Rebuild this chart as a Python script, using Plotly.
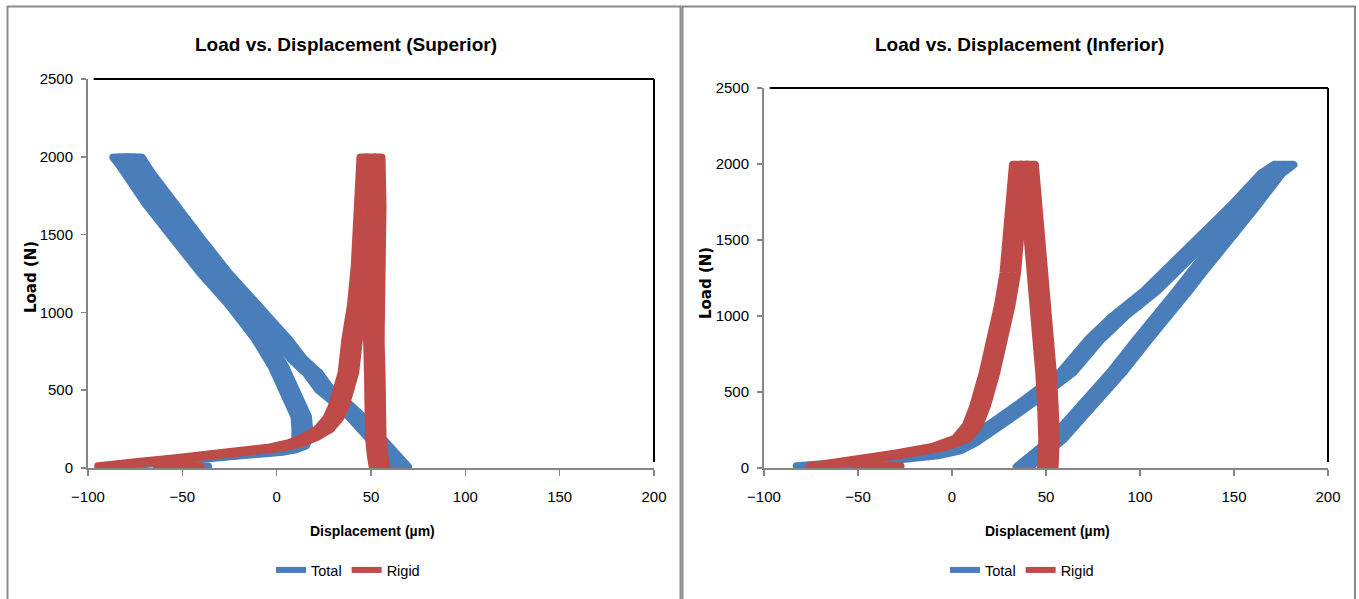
import plotly.graph_objects as go

# ---------------- data ----------------
X_TICKS = [-100, -50, 0, 50, 100, 150, 200]
Y_TICKS = [0, 500, 1000, 1500, 2000, 2500]

# Superior - Total (path: loading branch up, top, unloading branch down, tail)
SUP_TOTAL_X = [66, 64.5, 60, 55.5, 47, 40.5, 33, 25.5, 19, 11, 3, -14, -29, -43, -57, -70, -75,
               -83, -80, -66, -51, -37, -22, -8, 1, 7, 11, 13, 13.5, 13.5, 12, 6, 0,
               -15, -30, -45, -60, -72, -80, -86]
SUP_TOTAL_Y = [8, 28, 80, 135, 260, 349, 430, 504, 611, 700, 825, 1050, 1254, 1469, 1683, 1900, 1995,
               1995, 1950, 1700, 1469, 1254, 1050, 830, 650, 500, 400, 330, 260, 190, 145, 118, 105,
               88, 72, 58, 45, 32, 20, 12]
SUP_TOTAL_SEG_X = [-45, -40]
SUP_TOTAL_SEG_Y = [10, 10]

# Superior - Rigid
SUP_RIGID_X = [-91, -82, -70, -50, -30, -12, 0, 10, 18, 25, 30, 33, 36, 38, 40, 43, 45, 47, 48,
               52, 52.5, 52, 51.5, 51.5, 52, 52, 52.5, 53.5, 54.5]
SUP_RIGID_Y = [12, 20, 38, 62, 86, 110, 132, 160, 200, 250, 320, 400, 504, 611, 825, 1050, 1300, 1683, 1995,
               1995, 1683, 1254, 1000, 825, 600, 400, 200, 80, 8]
SUP_RIGID_SEG_X = [-60, -44]
SUP_RIGID_SEG_Y = [12, 12]

# Inferior - Total
INF_TOTAL_X = [38, 41.5, 45, 50, 56, 64, 71, 79.5, 87.5, 101.5, 112, 122.5, 130, 144.5, 158.5, 172, 178,
               175, 168, 151.5, 133.5, 115.5, 105.5, 89, 76, 61, 50, 40, 27.5, 17.5, 9.5, 1,
               -11, -31, -51.5, -72, -79]
INF_TOTAL_Y = [8, 39, 83, 130, 192, 301, 410, 520, 629, 847, 1000, 1164, 1284, 1502, 1721, 1939, 1995,
               1995, 1939, 1721, 1502, 1284, 1164, 1000, 847, 629, 520, 432, 323, 236, 170, 116,
               83, 57, 35, 20, 12]
INF_TOTAL_SEG_X = [-53, -47]
INF_TOTAL_SEG_Y = [10, 10]

# Inferior - Rigid
INF_RIGID_X = [-72, -62, -45.5, -27, -7, 5, 11, 15, 20, 24.5, 28, 31, 32.5, 35, 36,
               40.5, 42.5, 44, 45.5, 47, 48.4, 50, 51, 51.6, 51]
INF_RIGID_Y = [12, 28, 61, 94, 138, 192, 280, 410, 629, 847, 1066, 1284, 1500, 1721, 1995,
               1995, 1721, 1500, 1284, 1066, 847, 629, 410, 192, 8]
INF_RIGID_SEG_X = [-48, -31]
INF_RIGID_SEG_Y = [12, 12]

SERIES_NAMES = ["Total", "Rigid"]
TITLES = ["Load vs. Displacement (Superior)", "Load vs. Displacement (Inferior)"]
X_TITLE = "Displacement (µm)"
Y_TITLE = "Load (N)"

# ---------------- style ----------------
W, H = 1359, 599
BLUE = "#4A7EBB"
RED = "#BE4B48"
AXIS_GRAY = "#868686"
BORDER_GRAY = "#8a8a8a"
FONT = "Liberation Sans, Arial, sans-serif"
SCATTER_HW = 3.6      # half spread of the noisy point cloud (µm)
MARKER_W = 8          # apparent marker diameter (px)


def fx(p):
    return p / W


def fy(p):
    return 1 - p / H


def spread(xs, ys, hw):
    """three parallel strokes (centre and +/- hw in x) imitate the dense point cloud"""
    out_x, out_y = [], []
    for off in (-hw, 0.0, hw):
        if out_x:
            out_x.append(None)
            out_y.append(None)
        out_x += [x + off for x in xs]
        out_y += list(ys)
    return out_x, out_y


fig = go.Figure()

panels = [
    dict(xa="x", ya="y", legend="legend",
         total=(SUP_TOTAL_X, SUP_TOTAL_Y, SUP_TOTAL_SEG_X, SUP_TOTAL_SEG_Y),
         rigid=(SUP_RIGID_X, SUP_RIGID_Y, SUP_RIGID_SEG_X, SUP_RIGID_SEG_Y)),
    dict(xa="x2", ya="y2", legend="legend2",
         total=(INF_TOTAL_X, INF_TOTAL_Y, INF_TOTAL_SEG_X, INF_TOTAL_SEG_Y),
         rigid=(INF_RIGID_X, INF_RIGID_Y, INF_RIGID_SEG_X, INF_RIGID_SEG_Y)),
]

for p in panels:
    for key, color in (("total", BLUE), ("rigid", RED)):
        xs, ys, sx, sy = p[key]
        ax, ay = spread(xs, ys, SCATTER_HW)
        bx, by = spread(sx, sy, SCATTER_HW)
        fig.add_trace(go.Scatter(
            x=ax + [None] + bx, y=ay + [None] + by,
            xaxis=p["xa"], yaxis=p["ya"], mode="lines",
            line=dict(color=color, width=MARKER_W),
            showlegend=False, hoverinfo="skip"))
    for name, color in zip(SERIES_NAMES, (BLUE, RED)):
        fig.add_trace(go.Scatter(
            x=[None], y=[None], xaxis=p["xa"], yaxis=p["ya"], mode="lines",
            line=dict(color=color, width=6), name=name, legend=p["legend"]))

axis_common = dict(
    showline=True, linecolor=AXIS_GRAY, linewidth=2, ticks="outside",
    tickcolor=AXIS_GRAY, tickwidth=1.5, showgrid=False, zeroline=False,
    tickfont=dict(family=FONT, size=15, color="#000000"), fixedrange=True,
    automargin=False)

plot_px = [
    dict(x0=88, x1=654, y0=79, y1=468),
    dict(x0=764, x1=1328, y0=88, y1=468),
]

layout_axes = {}
for i, pp in enumerate(plot_px):
    sfx = "" if i == 0 else "2"
    layout_axes["xaxis" + sfx] = dict(
        axis_common, domain=[fx(pp["x0"]), fx(pp["x1"])], range=[-100, 200],
        tickvals=X_TICKS, ticklen=6, anchor="y" + sfx, ticklabelstandoff=8)
    layout_axes["yaxis" + sfx] = dict(
        axis_common, domain=[fy(pp["y1"]), fy(pp["y0"])], range=[0, 2500],
        tickvals=Y_TICKS, ticklen=5, anchor="x" + sfx, ticklabelstandoff=5)

fig.update_layout(**layout_axes)

legend_common = dict(
    orientation="h", xanchor="center", yanchor="middle",
    font=dict(family=FONT, size=14.5, color="#000000"),
    itemwidth=30, bgcolor="rgba(0,0,0,0)", borderwidth=0,
    itemclick=False, itemdoubleclick=False)

fig.update_layout(
    width=W, height=H,
    margin=dict(l=0, r=0, t=0, b=0, pad=0, autoexpand=False),
    paper_bgcolor="white", plot_bgcolor="white",
    showlegend=True,
    legend=dict(legend_common, x=fx(348), y=fy(570)),
    legend2=dict(legend_common, x=fx(1022), y=fy(570)),
)

shapes = []
# panel borders
for x0, x1 in ((7.5, 680.5), (682.5, 1355)):
    shapes.append(dict(type="rect", xref="paper", yref="paper",
                       x0=fx(x0), x1=fx(x1), y0=fy(640), y1=fy(6.5),
                       line=dict(color=BORDER_GRAY, width=2), fillcolor="rgba(0,0,0,0)",
                       layer="below"))
# black top and right frame lines of each plot area
for i, pp in enumerate(plot_px):
    sfx = "" if i == 0 else "2"
    xr, yr = "x" + sfx + " domain", "y" + sfx + " domain"
    bottom_frac = 6 / (pp["y1"] - pp["y0"])
    shapes.append(dict(type="line", xref=xr, yref=yr, x0=0.01, x1=1, y0=1, y1=1,
                       line=dict(color="#000000", width=2)))
    shapes.append(dict(type="line", xref=xr, yref=yr, x0=1, x1=1, y0=bottom_frac, y1=1,
                       line=dict(color="#000000", width=2)))
fig.update_layout(shapes=shapes)

annotations = []
title_centers = [(346, 44), (1019, 44)]
ytitle_pos = [(31, 277), (706, 283)]
for i, pp in enumerate(plot_px):
    tx, ty = title_centers[i]
    annotations.append(dict(text=TITLES[i], xref="paper", yref="paper", x=fx(tx), y=fy(ty),
                            xanchor="center", yanchor="middle", showarrow=False,
                            font=dict(family=FONT, size=19, color="#000000", weight="bold")))
    annotations.append(dict(text=X_TITLE, xref="paper", yref="paper",
                            x=fx((pp["x0"] + pp["x1"]) / 2 + 1), y=fy(531),
                            xanchor="center", yanchor="middle", showarrow=False,
                            font=dict(family=FONT, size=14, color="#000000", weight="bold")))
    yx, yy = ytitle_pos[i]
    annotations.append(dict(text=Y_TITLE, xref="paper", yref="paper", x=fx(yx), y=fy(yy),
                            xanchor="center", yanchor="middle", showarrow=False, textangle=-90,
                            font=dict(family="DejaVu Sans, Verdana, sans-serif", size=15,
                                      color="#000000", weight="bold")))
fig.update_layout(annotations=annotations)

# remove the browser's default 8px page margin and round the stroke joins
POST = ("document.body.style.margin='0px';"
        "document.querySelectorAll('.scatterlayer path.js-line').forEach("
        "function(p){p.style.strokeLinejoin='round';p.style.strokeLinecap='round';});")
fig.write_html("out.html", post_script=POST,
               config={"displayModeBar": False, "staticPlot": True})
